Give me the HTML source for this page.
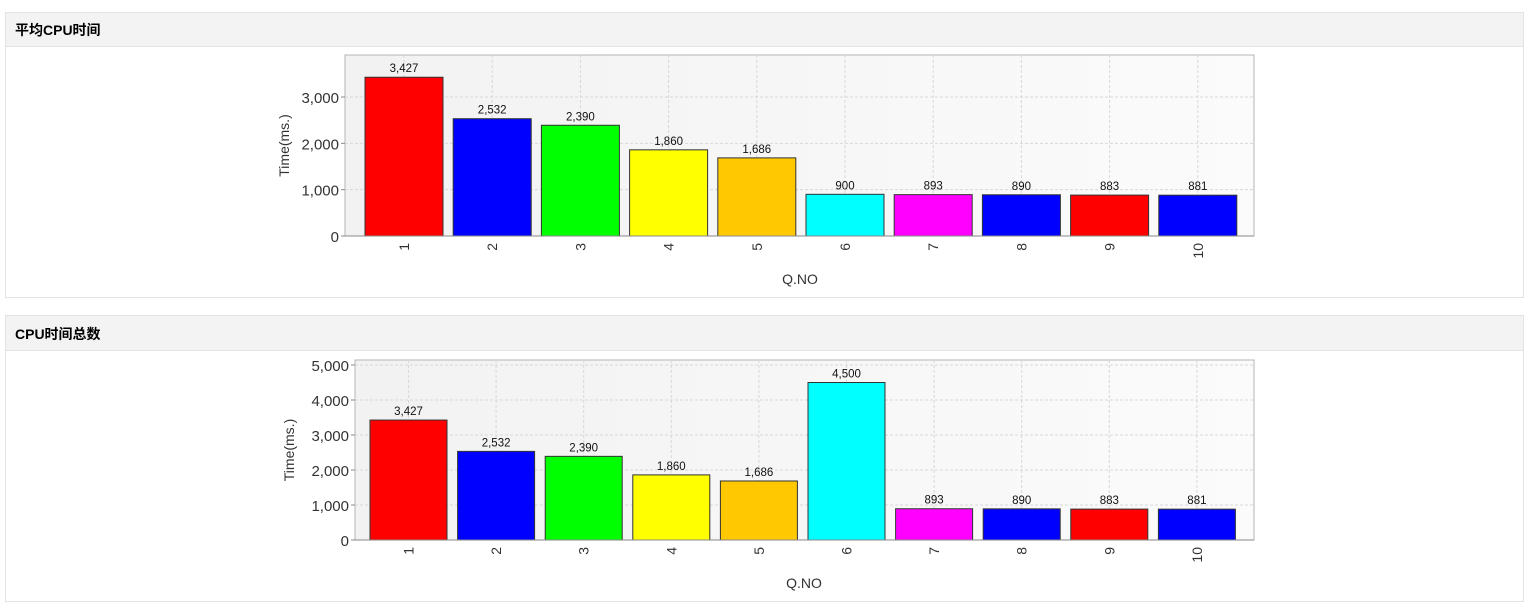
<!DOCTYPE html>
<html><head><meta charset="utf-8"><style>
body{margin:0;background:#fff;font-family:"Liberation Sans","Noto Sans CJK SC",sans-serif;}
svg{position:absolute;left:0;top:0}
</style></head><body>
<svg width="1535" height="607" xmlns="http://www.w3.org/2000/svg" font-family="Liberation Sans, Noto Sans CJK SC, sans-serif">
<defs>
<linearGradient id="g" x1="0" y1="0" x2="1" y2="0"><stop offset="0" stop-color="#f2f2f2"/><stop offset="1" stop-color="#fbfbfb"/></linearGradient>
</defs>
<!-- panel 1 -->
<rect x="5.5" y="12.5" width="1518" height="285" fill="#fff" stroke="#e3e3e3"/>
<rect x="6" y="13" width="1517" height="33" fill="#f3f3f3"/>
<line x1="6" y1="46.5" x2="1523" y2="46.5" stroke="#e3e3e3"/>
<text x="15" y="35" font-size="14" font-weight="bold" fill="#000">平均CPU时间</text>
<!-- panel 2 -->
<rect x="5.5" y="315.5" width="1518" height="286" fill="#fff" stroke="#e3e3e3"/>
<rect x="6" y="316" width="1517" height="34" fill="#f3f3f3"/>
<line x1="6" y1="350.5" x2="1523" y2="350.5" stroke="#e3e3e3"/>
<text x="15" y="339" font-size="14" font-weight="bold" fill="#000">CPU时间总数</text>
<g id="c1"></g><g id="c2"></g>
</svg>
<script>
function chart(g,o){
 var s='';
 var L=o.l,R=1254,T=o.t,B=o.b;
 s+='<rect x="'+L+'" y="'+T+'" width="'+(R-L)+'" height="'+(B-T)+'" fill="url(#g)" stroke="#b5b5b5"/>';
 var cols=['#ff0000','#0000ff','#00ff00','#ffff00','#ffc800','#00ffff','#ff00ff','#0000ff','#ff0000','#0000ff'];
 for(var k=o.step;k<=o.max;k+=o.step){var y=B-k*o.sc;
  s+='<line x1="'+L+'" x2="'+R+'" y1="'+y+'" y2="'+y+'" stroke="#d8d8d8" stroke-dasharray="3,2"/>';}
 for(var k=0;k<=o.max;k+=o.step){var y=B-k*o.sc;
  s+='<line x1="'+(L-4)+'" x2="'+L+'" y1="'+y+'" y2="'+y+'" stroke="#888"/>';
  s+='<text x="'+(L-6)+'" y="'+(y+6)+'" font-size="15" text-anchor="end" fill="#333">'+k.toLocaleString('en-US')+'</text>';}
 for(var i=0;i<10;i++){var cx=o.x0+i*o.w+o.bw/2;
  s+='<line x1="'+cx+'" x2="'+cx+'" y1="'+T+'" y2="'+B+'" stroke="#d8d8d8" stroke-dasharray="3,2"/>';}
 for(var i=0;i<10;i++){var v=o.v[i],h=v*o.sc,x=o.x0+i*o.w,cx=x+o.bw/2;
  s+='<rect x="'+x+'" y="'+(B-h)+'" width="'+o.bw+'" height="'+h+'" fill="'+cols[i]+'" stroke="#333" stroke-width="1"/>';
  s+='<text x="'+cx+'" y="'+(B-h-5)+'" font-size="11.5" text-anchor="middle" fill="#111">'+v.toLocaleString('en-US')+'</text>';
  s+='<text transform="translate('+(cx+5)+','+(B+7)+') rotate(-90)" font-size="14" text-anchor="end" fill="#333">'+(i+1)+'</text>';}
 s+='<line x1="'+L+'" x2="'+R+'" y1="'+B+'" y2="'+B+'" stroke="#888"/>';
 s+='<text transform="translate('+o.yl+','+((T+B)/2)+') rotate(-90)" font-size="14" text-anchor="middle" fill="#333">Time(ms.)</text>';
 s+='<text x="'+o.ql+'" y="'+(B+48)+'" font-size="14" text-anchor="middle" fill="#333">Q.NO</text>';
 document.getElementById(g).innerHTML=s;
}
chart('c1',{l:345,t:55,b:236,max:3000,step:1000,sc:0.04633,x0:365,w:88.2,bw:78,yl:289,ql:800,v:[3427,2532,2390,1860,1686,900,893,890,883,881]});
chart('c2',{l:355,t:360,b:540,max:5000,step:1000,sc:0.035,x0:370,w:87.6,bw:77,yl:294,ql:804,v:[3427,2532,2390,1860,1686,4500,893,890,883,881]});
</script>
</body></html>
